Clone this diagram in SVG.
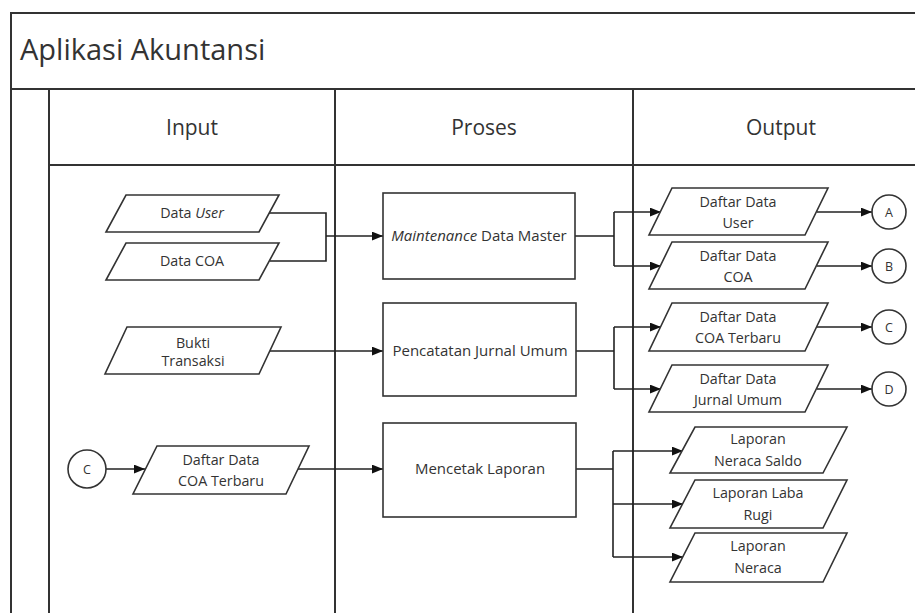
<svg xmlns="http://www.w3.org/2000/svg" width="915" height="613" viewBox="0 0 915 613">
<style>
  .frame{fill:none;stroke:#333;stroke-width:2}
  .shape{fill:#fff;stroke:#333;stroke-width:1.6}
  .conn{fill:none;stroke:#222;stroke-width:1.6}
  text{font-family:"Open Sans","Noto Sans","DejaVu Sans",sans-serif;fill:#333;text-anchor:middle}
  .t{font-size:14.3px}
  .c{font-size:12.5px}
  .p{font-size:15px}
  .h{font-size:21px}
  .title{font-size:29px;text-anchor:start}
  .i{font-style:italic}
</style>
<defs>
  <marker id="arr" viewBox="0 0 10 8" refX="10" refY="4" markerWidth="11" markerHeight="9" markerUnits="userSpaceOnUse" orient="auto">
    <path d="M0,0 L10,4 L0,8 Z" fill="#111"/>
  </marker>
</defs>
<rect width="915" height="613" fill="#fff"/>
<g id="frame">
  <path class="frame" d="M11,613 V13 H915 M11,89 H915 M49,89 V613 M49,165 H915 M335,89 V613 M633,89 V613"/>
  <text class="title" x="20" y="60">Aplikasi Akuntansi</text>
  <text class="h" x="192" y="135">Input</text>
  <text class="h" x="484" y="135">Proses</text>
  <text class="h" x="781" y="135">Output</text>
</g>
<g id="connectors">
  <path class="conn" d="M269,213 H326 V261 H270"/>
  <path class="conn" d="M326,236 H383" marker-end="url(#arr)"/>
  <path class="conn" d="M270,351 H383" marker-end="url(#arr)"/>
  <path class="conn" d="M106,469 H145" marker-end="url(#arr)"/>
  <path class="conn" d="M297,469 H383" marker-end="url(#arr)"/>
  <path class="conn" d="M575,236 H614 M614,212 V266"/>
  <path class="conn" d="M614,212 H661" marker-end="url(#arr)"/>
  <path class="conn" d="M614,266 H661" marker-end="url(#arr)"/>
  <path class="conn" d="M576,351 H614 M614,327 V389"/>
  <path class="conn" d="M614,327 H661" marker-end="url(#arr)"/>
  <path class="conn" d="M614,389 H661" marker-end="url(#arr)"/>
  <path class="conn" d="M576,469 H613 M613,451 V557"/>
  <path class="conn" d="M613,451 H683" marker-end="url(#arr)"/>
  <path class="conn" d="M613,504 H683" marker-end="url(#arr)"/>
  <path class="conn" d="M613,557 H683" marker-end="url(#arr)"/>
  <path class="conn" d="M817,212 H872" marker-end="url(#arr)"/>
  <path class="conn" d="M817,266 H872" marker-end="url(#arr)"/>
  <path class="conn" d="M817,327 H872" marker-end="url(#arr)"/>
  <path class="conn" d="M817,389 H872" marker-end="url(#arr)"/>
</g>
<g id="in-data-user">
  <polygon class="shape" points="126,195 279,195 259,232 106,232"/>
  <text class="t" x="192" y="218">Data <tspan class="i">User</tspan></text>
</g>
<g id="in-data-coa">
  <polygon class="shape" points="126,243 279,243 259,280 106,280"/>
  <text class="t" x="192" y="266">Data COA</text>
</g>
<g id="in-bukti">
  <polygon class="shape" points="127,327 281,327 259,374 105,374"/>
  <text class="t" x="193" y="348">Bukti</text>
  <text class="t" x="193" y="366">Transaksi</text>
</g>
<g id="in-conn-c">
  <circle class="shape" cx="87" cy="469" r="19"/>
  <text class="c" x="87" y="473.5">C</text>
</g>
<g id="in-daftar-coa-terbaru">
  <polygon class="shape" points="157,446 309,446 286,494 133,494"/>
  <text class="t" x="221" y="465">Daftar Data</text>
  <text class="t" x="221" y="486">COA Terbaru</text>
</g>
<g id="proc-maintenance">
  <rect class="shape" x="383" y="193" width="192" height="86"/>
  <text class="p" x="479" y="241"><tspan class="i">Maintenance</tspan> Data Master</text>
</g>
<g id="proc-jurnal">
  <rect class="shape" x="383" y="303" width="193" height="93"/>
  <text class="p" x="480" y="356">Pencatatan Jurnal Umum</text>
</g>
<g id="proc-laporan">
  <rect class="shape" x="383" y="423" width="193" height="94"/>
  <text class="p" x="480" y="474">Mencetak Laporan</text>
</g>
<g id="out-daftar-user">
  <polygon class="shape" points="672,188 828,188 805,235 649,235"/>
  <text class="t" x="738" y="207">Daftar Data</text>
  <text class="t" x="738" y="228">User</text>
</g>
<g id="out-daftar-coa">
  <polygon class="shape" points="672,242 828,242 805,289 649,289"/>
  <text class="t" x="738" y="261">Daftar Data</text>
  <text class="t" x="738" y="282">COA</text>
</g>
<g id="out-daftar-coa-terbaru">
  <polygon class="shape" points="672,303 828,303 805,351 649,351"/>
  <text class="t" x="738" y="322">Daftar Data</text>
  <text class="t" x="738" y="343">COA Terbaru</text>
</g>
<g id="out-daftar-jurnal">
  <polygon class="shape" points="672,365 828,365 805,412 649,412"/>
  <text class="t" x="738" y="384">Daftar Data</text>
  <text class="t" x="738" y="405">Jurnal Umum</text>
</g>
<g id="out-neraca-saldo">
  <polygon class="shape" points="695,427 847,427 823,473 670,473"/>
  <text class="t" x="758" y="444">Laporan</text>
  <text class="t" x="758" y="466">Neraca Saldo</text>
</g>
<g id="out-laba-rugi">
  <polygon class="shape" points="695,480 847,480 823,528 670,528"/>
  <text class="t" x="758" y="498">Laporan Laba</text>
  <text class="t" x="758" y="520">Rugi</text>
</g>
<g id="out-neraca">
  <polygon class="shape" points="695,533 847,533 823,582 670,582"/>
  <text class="t" x="758" y="551">Laporan</text>
  <text class="t" x="758" y="573">Neraca</text>
</g>
<g id="conn-a">
  <circle class="shape" cx="889" cy="212" r="17"/>
  <text class="c" x="889" y="216.5">A</text>
</g>
<g id="conn-b">
  <circle class="shape" cx="889" cy="266" r="17"/>
  <text class="c" x="889" y="270.5">B</text>
</g>
<g id="conn-c-out">
  <circle class="shape" cx="889" cy="327" r="17"/>
  <text class="c" x="889" y="331.5">C</text>
</g>
<g id="conn-d">
  <circle class="shape" cx="889" cy="389" r="17"/>
  <text class="c" x="889" y="393.5">D</text>
</g>
</svg>
